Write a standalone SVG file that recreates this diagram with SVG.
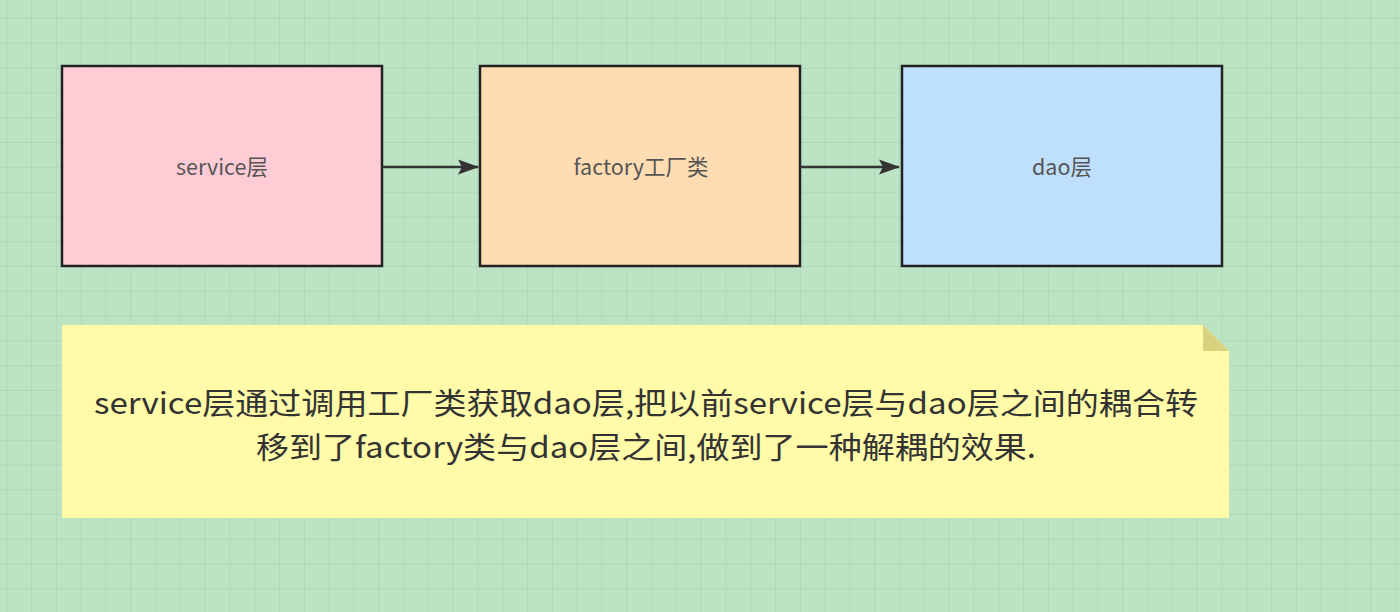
<svg xmlns="http://www.w3.org/2000/svg" width="1400" height="612" viewBox="0 0 1400 612">
  <defs>
    <pattern id="grid" x="7.2" y="-5.8" width="24.8" height="24.8" patternUnits="userSpaceOnUse">
      <path d="M24.8 0V24.8M0 24.8H24.8" fill="none" stroke="#a8d3b3" stroke-width="1.3"/>
    </pattern>
    <marker id="arr" markerWidth="22" markerHeight="16" refX="20" refY="8" orient="auto" markerUnits="userSpaceOnUse">
      <path d="M0 0.5L21 8L0 15.5L4 8Z" fill="#333"/>
    </marker>
    <style>
      .box{stroke:#222;stroke-width:2.5}
      .lbl{font-family:"Microsoft YaHei","Noto Sans CJK SC",sans-serif;font-size:21.5px;fill:#555;text-anchor:middle}
      .note{font-family:"Microsoft YaHei","Noto Sans CJK SC",sans-serif;font-size:30px;fill:#333;text-anchor:middle}
      .conn{stroke:#333;stroke-width:2.5;fill:none}
    </style>
  </defs>
  <rect width="1400" height="612" fill="#bde3c5"/>
  <rect width="1400" height="612" fill="url(#grid)"/>

  <g id="service">
    <rect class="box" x="62" y="66" width="320" height="200" fill="#ffccd5"/>
    <text class="lbl" x="222" y="175">service层</text>
  </g>
  <g id="factory">
    <rect class="box" x="480" y="66" width="320" height="200" fill="#ffdcb2"/>
    <text class="lbl" x="641" y="175">factory工厂类</text>
  </g>
  <g id="dao">
    <rect class="box" x="902" y="66" width="320" height="200" fill="#bfe0fc"/>
    <text class="lbl" x="1062" y="175">dao层</text>
  </g>

  <g id="connectors">
    <path class="conn" d="M382 167H478" marker-end="url(#arr)"/>
    <path class="conn" d="M800 167H899" marker-end="url(#arr)"/>
  </g>

  <g id="note">
    <path d="M62 325H1203L1229 351V518H62Z" fill="#fffba8"/>
    <path d="M1203 325L1229 351H1203Z" fill="#d8d27c"/>
    <text class="note" x="646" y="414" textLength="1104" lengthAdjust="spacingAndGlyphs">service层通过调用工厂类获取dao层,把以前service层与dao层之间的耦合转</text>
    <text class="note" x="646" y="458" textLength="780" lengthAdjust="spacingAndGlyphs">移到了factory类与dao层之间,做到了一种解耦的效果.</text>
  </g>
</svg>
